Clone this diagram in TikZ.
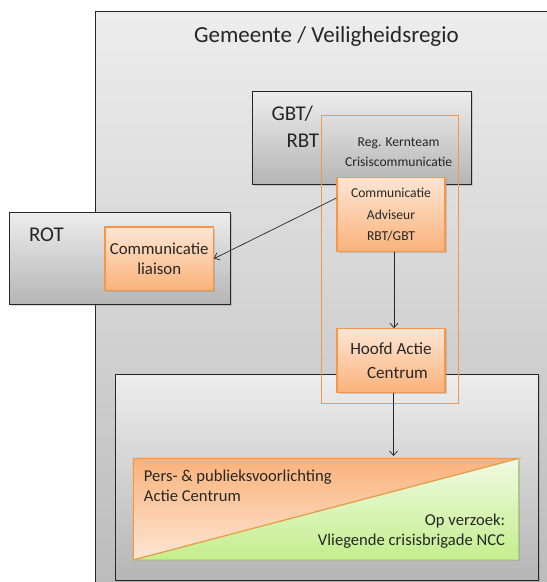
\documentclass[tikz,border=0pt]{standalone}
\usepackage{fontspec}
\setmainfont{Carlito}
\usetikzlibrary{arrows.meta, positioning, shadows}
\definecolor{accent}{HTML}{F79646}
\definecolor{peach}{HTML}{FDE6D4}
\definecolor{apricot}{HTML}{FAB27A}
\definecolor{lime}{HTML}{C4EE8C}
\definecolor{mint}{HTML}{F0FAE3}
\definecolor{leaf}{HTML}{A9D46F}
\definecolor{ink}{HTML}{262626}

\begin{document}
\begin{tikzpicture}[
        x=1pt, y=-1pt,
        boxshadow/.style={drop shadow={shadow xshift=1.5pt, shadow yshift=-1.5pt, opacity=0.3}},
        grayframe/.style={rectangle, draw=ink, line width=1.1pt, top color=black!7, bottom color=black!29, boxshadow},
        kernframe/.style={rectangle, draw=accent, line width=1.2pt},
        orangeunit/.style={rectangle, draw=accent, line width=1.1pt, top color=peach, bottom color=apricot, inner sep=2pt, align=center, text=ink, boxshadow},
        heading/.style={font=\fontsize{21}{24}\selectfont, text=ink},
        flowarrow/.style={-{Straight Barb[length=4.5pt, width=8pt]}, line width=0.7pt, ink}
    ]
        \useasboundingbox (0,0) rectangle (547,582);
        \clip (0,0) rectangle (547,582);

        \node[grayframe, anchor=north west, minimum width=529pt, minimum height=650pt] (gemeente) at (95,11) {};
        \node[heading, font=\fontsize{23}{26}\selectfont, anchor=base] (title) at (326.4,42.6) {Gemeente / Veiligheidsregio};

        \node[grayframe, minimum width=423pt, minimum height=206.5pt] (actie) at (326.7,477.5) {};
        \node[grayframe, minimum width=219pt, minimum height=92.5pt] (gbt) at (362,138) {};
        \node[heading, anchor=base west] (gbtname) at (268,120.3) {GBT/};
        \node[heading, anchor=base west] (rbtname) at (283,147.5) {RBT};

        \node[grayframe, minimum width=220.4pt, minimum height=92.5pt] (rot) at (120,258.3) {};
        \node[heading, anchor=base west] (rotname) at (25.5,241.4) {ROT};

        \node[kernframe, minimum width=137pt, minimum height=288pt] (kern) at (390,259.5) {};
        \node[align=center, text=ink, font=\fontsize{13.6}{20.2}\selectfont] (kerntxt) at (398.6,152) {Reg. Kernteam\\Crisiscommunicatie};

        \node[orangeunit, minimum width=108pt, minimum height=74.3pt, font=\fontsize{13.6}{21.4}\selectfont] (adviseur) at (391,214.7) {Communicatie\\Adviseur\\RBT/GBT};
        \node[orangeunit, minimum width=108pt, minimum height=63.5pt, font=\fontsize{17.1}{23.7}\selectfont] (hoofd) at (391,360.5) {Hoofd Actie\\\hspace{13pt}Centrum};
        \node[orangeunit, minimum width=108.5pt, minimum height=63.2pt, font=\fontsize{16.8}{20.6}\selectfont] (liaison) at (159.2,258.6) {Communicatie\\liaison};

        \node[rectangle, minimum width=384.7pt, minimum height=101.1pt, boxshadow] (pers) at (326,509.2) {};
        \filldraw[draw=accent, line width=1pt, top color=apricot, bottom color=peach] (pers.north west) -- (pers.north east) -- (pers.south west) -- cycle;
        \filldraw[draw=leaf, line width=1pt, top color=mint, bottom color=lime] (pers.south west) -- (pers.north east) -- (pers.south east) -- cycle;
        \draw[accent, line width=1pt] (pers.south west) -- (pers.north east);
        \node[anchor=north west, align=left, text=ink, font=\fontsize{16.6}{20.2}\selectfont] (perstxt) at ([xshift=7pt, yshift=-8pt]pers.north west) {Pers- \& publieksvoorlichting\\Actie Centrum};
        \node[anchor=south east, align=right, text=ink, font=\fontsize{16.6}{20.4}\selectfont] (ncctxt) at ([xshift=-10pt, yshift=8pt]pers.south east) {Op verzoek:\\Vliegende crisisbrigade NCC};

        \draw[flowarrow] ([yshift=16.7pt]adviseur.west) -- (liaison.east);
        \draw[flowarrow] ([xshift=3pt]adviseur.south) -- ([xshift=3pt]hoofd.north);
        \draw[flowarrow] ([xshift=2.5pt]hoofd.south) -- ([xshift=2.5pt, yshift=2.5pt]hoofd.south |- pers.north);
    \end{tikzpicture}
\end{document}
